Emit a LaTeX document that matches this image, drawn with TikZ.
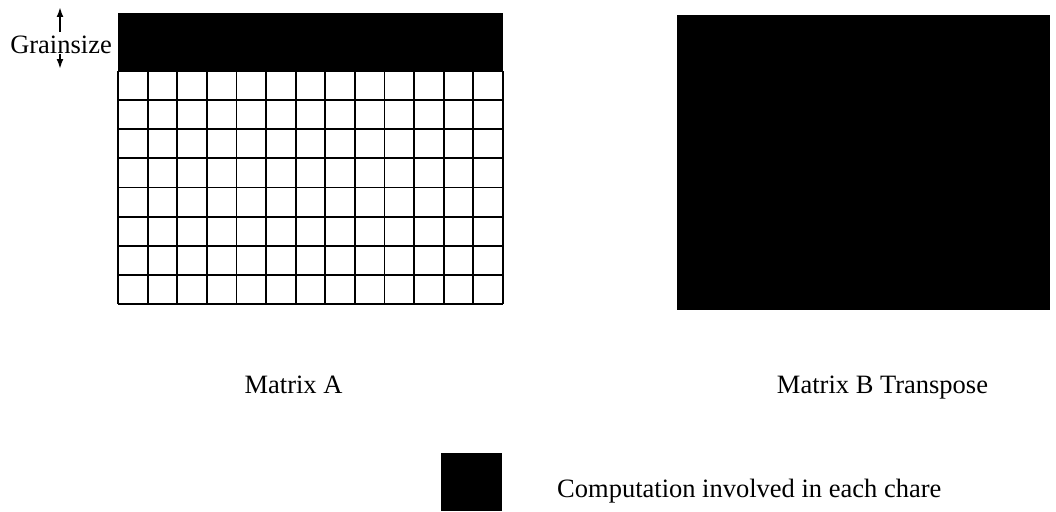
\documentclass[tikz,border=0pt]{standalone}
\usepackage{fontspec}
\setmainfont{Liberation Serif}
\usetikzlibrary{arrows.meta}
\begin{document}
\begin{tikzpicture}[x=1pt,y=-1pt,
  lbl/.style={font=\fontsize{26.5}{30}\selectfont, inner sep=0pt},
  gridline/.style={line width=1.8pt},
  arr/.style={line width=2pt,-{Latex[length=10pt,width=7pt]}},
  blk/.style={fill=black, draw=none}]
\useasboundingbox (0,0) rectangle (1056,511);
% Matrix A
\fill[black] (118,13) rectangle (503,71);
\foreach \i in {0,...,13} {\draw[gridline] ({118+\i*(385/13)},71) -- ({118+\i*(385/13)},304);}
\foreach \j in {0,...,8} {\draw[gridline] (118,{71+\j*(233/8)}) -- (503,{71+\j*(233/8)});}
\node[lbl, anchor=base east] (gs) at (112,53) {Grainsize};
\coordinate (upt) at (60,7);
\coordinate (upb) at (60,32);
\coordinate (dnt) at (60,69);
\coordinate (dnb) at (60,54);
\draw[arr] (upb) -- (upt);
\draw[arr] (dnb) -- (dnt);
% Matrix B
\node[blk, minimum width=373pt, minimum height=295pt, inner sep=0pt, anchor=north west] (B) at (677,15) {};
\node[lbl, anchor=base] (la) at (293.5,393) {Matrix A};
\node[lbl, anchor=base] (lb) at (882.5,393) {Matrix B Transpose};
% legend
\node[blk, minimum width=61pt, minimum height=58pt, inner sep=0pt, anchor=north west] (leg) at (441,453) {};
\node[lbl, anchor=base west] (lt) at (557,497) {Computation involved in each chare};
\end{tikzpicture}
\end{document}
